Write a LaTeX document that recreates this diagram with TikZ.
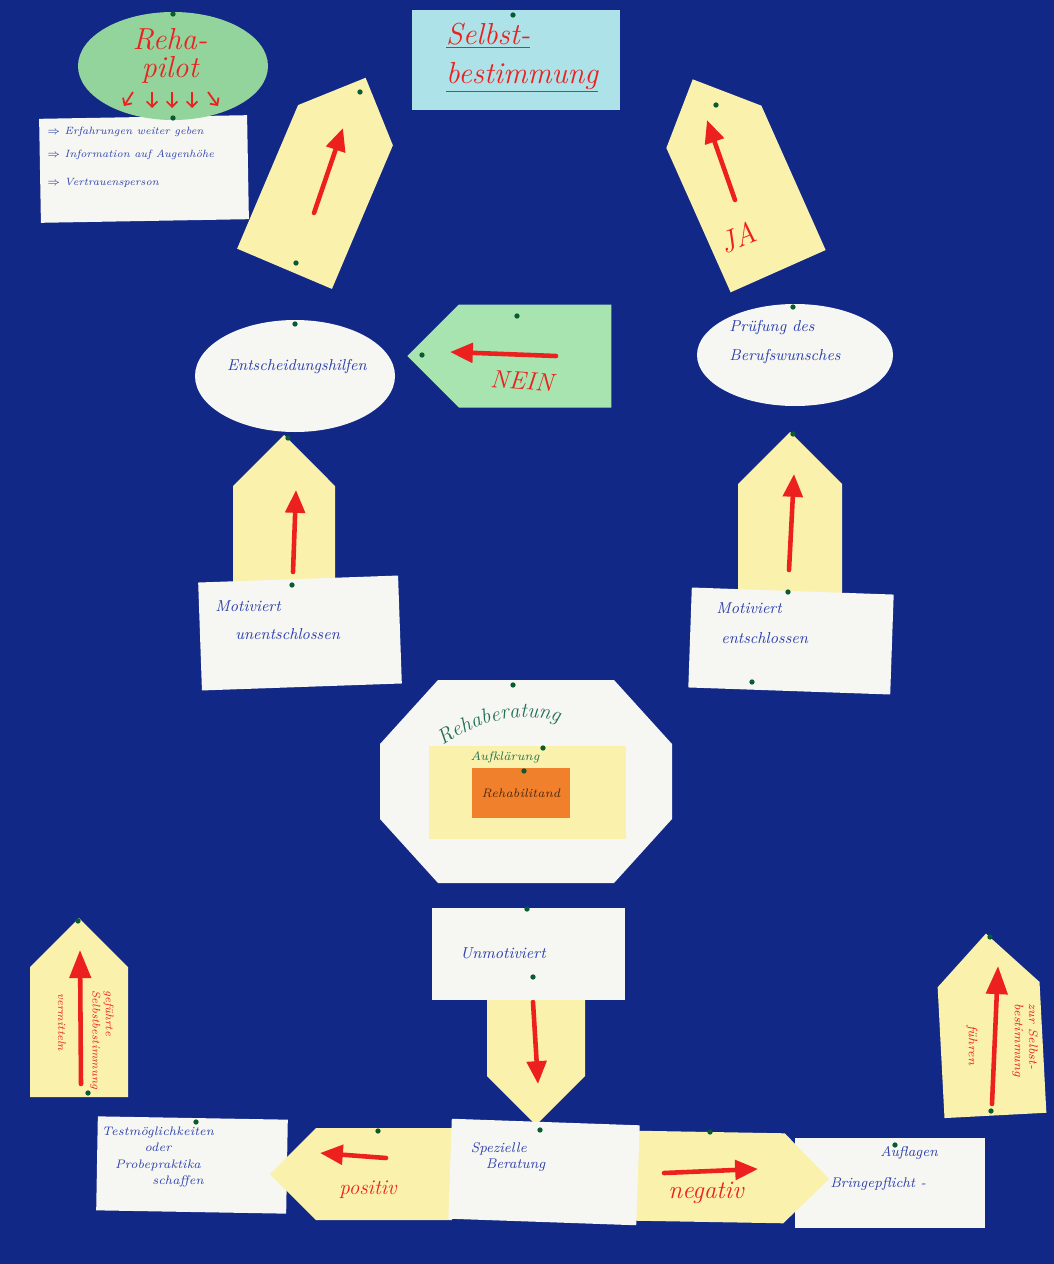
\documentclass[tikz,border=0pt]{standalone}
\usepackage{tikz}
\usetikzlibrary{shapes.geometric,shapes.symbols,arrows.meta,decorations.text}
\definecolor{board}{RGB}{18,40,134}
\definecolor{paper}{RGB}{246,246,242}
\definecolor{pale}{RGB}{250,241,172}
\definecolor{mint}{RGB}{146,212,156}
\definecolor{neingreen}{RGB}{168,228,176}
\definecolor{sky}{RGB}{172,226,232}
\definecolor{orng}{RGB}{240,128,44}
\definecolor{marker}{RGB}{236,32,30}
\definecolor{ink}{RGB}{44,64,172}
\definecolor{greenink}{RGB}{34,112,84}
\definecolor{pinc}{RGB}{10,90,50}
\def\px{0.02cm}
\def\card{\node[card]}
\def\arrowcard{\node[arrowcard]}
\tikzset{
  card/.style={rectangle,fill=paper,inner sep=0pt},
  arrowcard/.style={signal,fill=pale,signal from=nowhere,signal pointer angle=90,inner sep=0pt},
  hand/.style={text=ink,font=\small\itshape,align=left,inner sep=0pt},
  redhand/.style={text=marker,font=\Large\itshape,inner sep=0pt},
  sidetext/.style={text=marker,font=\fontsize{6.3}{7.5}\selectfont\itshape,inner sep=0pt,rotate=-90},
  markerline/.style={draw=marker,line width=2.6pt,line cap=round,-{Triangle[length=13pt,width=11pt]}},
  smallarrow/.style={draw=marker,line width=1pt,-{Straight Barb[length=3pt]}}
}
\begin{document}
\begin{tikzpicture}[x=\px,y=-\px]
\fill[board] (0,0) rectangle (1054,1264);
\useasboundingbox (0,0) rectangle (1054,1264);

% top: Reha-pilot and Selbstbestimmung
\card[minimum width=208*\px,minimum height=104*\px,rotate=1] (info) at (144,169) {};
\node[hand,font=\fontsize{6}{7}\selectfont\itshape,anchor=north west] (infotxt) at (47,127)
  {$\Rightarrow$ Erfahrungen weiter geben\\[6pt]$\Rightarrow$ Information auf Augenhöhe\\[9pt]$\Rightarrow$ Vertrauensperson};
\node[ellipse,fill=mint,minimum width=190*\px,minimum height=108*\px] (pilot) at (173,66) {};
\node[redhand,font=\LARGE\itshape,align=center] (pilottxt) at (170,56) {Reha-\\[-6pt]pilot};
\coordinate (p1) at (133,92); \coordinate (p1e) at (124,106);
\coordinate (p2) at (152,92); \coordinate (p2e) at (152,108);
\coordinate (p3) at (172,92); \coordinate (p3e) at (172,108);
\coordinate (p4) at (192,92); \coordinate (p4e) at (192,108);
\coordinate (p5) at (208,92); \coordinate (p5e) at (218,106);
\draw[smallarrow] (p1) -- (p1e);
\draw[smallarrow] (p2) -- (p2e);
\draw[smallarrow] (p3) -- (p3e);
\draw[smallarrow] (p4) -- (p4e);
\draw[smallarrow] (p5) -- (p5e);

\card[fill=sky,minimum width=208*\px,minimum height=100*\px] (selbst) at (516,60) {};
\node[redhand,font=\LARGE\itshape,align=left] (selbsttxt) at (522,58) {\underline{Selbst-}\\\underline{bestimmung}};

% tilted arrows up to Selbstbestimmung
\arrowcard[signal to=north,minimum width=103*\px,minimum height=156*\px,rotate=-23] (upl) at (315,197) {};
\coordinate (l1) at (314,213); \coordinate (l2) at (343,128);
\draw[markerline] (l1) -- (l2);
\arrowcard[signal to=north,minimum width=104*\px,minimum height=158*\px,rotate=24] (upr) at (746,199) {};
\coordinate (r1) at (735,200); \coordinate (r2) at (707,120);
\draw[markerline] (r1) -- (r2);
\node[redhand,font=\LARGE\itshape,rotate=22] (ja) at (738,238) {JA};

% middle row
\node[ellipse,fill=paper,minimum width=200*\px,minimum height=112*\px] (hilfen) at (295,376) {};
\node[hand] (hilfentxt) at (297,367) {Entscheidungshilfen};
\arrowcard[fill=neingreen,signal to=west,minimum width=204*\px,minimum height=103*\px] (nein) at (535,356) {};
\coordinate (n1) at (556,356); \coordinate (n2) at (450,352);
\draw[markerline] (n1) -- (n2);
\node[redhand,rotate=-4] (neintxt) at (522,381) {NEIN};
\node[ellipse,fill=paper,minimum width=196*\px,minimum height=102*\px] (pruef) at (795,355) {};
\node[hand] (prueftxt) at (785,342) {Prüfung des\\[5pt]Berufswunsches};

% arrows up from Motiviert
\arrowcard[signal to=north,minimum width=102*\px,minimum height=114*\px] (upa) at (284,543) {};
\coordinate (a1) at (293,572); \coordinate (a2) at (296,490);
\draw[markerline] (a1) -- (a2);
\arrowcard[signal to=north,minimum width=104*\px,minimum height=118*\px] (upb) at (790,543) {};
\coordinate (b1) at (789,570); \coordinate (b2) at (794,474);
\draw[markerline] (b1) -- (b2);
\card[minimum width=200*\px,minimum height=108*\px,rotate=2] (unent) at (300,633) {};
\node[hand,anchor=north west] (unenttxt) at (215,600) {Motiviert\\[5pt]\hspace{4mm}unentschlossen};
\card[minimum width=202*\px,minimum height=100*\px,rotate=-2] (entsch) at (791,641) {};
\node[hand,anchor=north west] (entschtxt) at (716,602) {Motiviert\\[6pt]\hspace{1mm}entschlossen};

% Rehaberatung
\fill[paper] (438,680) -- (614,680) -- (672,744) -- (672,819) -- (614,883) -- (438,883) -- (380,819) -- (380,744) -- cycle;
\coordinate (okt) at (526,781);
\path[decorate,decoration={text along path,text align=center,
  text={|\color{greenink}\large\itshape|Rehaberatung}}] (428,758) .. controls (470,720) and (530,704) .. (576,730);
\card[fill=pale,minimum width=197*\px,minimum height=93*\px] (aufkl) at (527,792) {};
\node[text=greenink,font=\scriptsize\itshape] (aufkltxt) at (505,757) {Aufklärung};
\card[fill=orng,minimum width=98*\px,minimum height=50*\px,text=black!70!orng,font=\scriptsize\itshape] (rehab) at (521,793) {Rehabilitand};

% Unmotiviert and Spezielle Beratung
\arrowcard[signal to=south,minimum width=98*\px,minimum height=116*\px] (dn) at (536,1018) {};
\coordinate (d1) at (533,1002); \coordinate (d2) at (538,1084);
\draw[markerline] (d1) -- (d2);
\card[minimum width=193*\px,minimum height=92*\px] (unmot) at (528,954) {};
\node[hand] (unmottxt) at (503,953) {Unmotiviert};

\card[minimum width=190*\px,minimum height=94*\px,rotate=-1] (test) at (192,1165) {};
\node[hand,font=\scriptsize\itshape,align=center] (testtxt) at (158,1157)
  {Testmöglichkeiten\\[1pt]oder\\[2pt]Probepraktika\\[1pt]\hspace{8mm}schaffen};
\arrowcard[signal to=west,minimum width=182*\px,minimum height=92*\px] (pos) at (384,1174) {};
\coordinate (q1) at (386,1158); \coordinate (q2) at (320,1153);
\draw[markerline] (q1) -- (q2);
\node[redhand,font=\large\itshape] (postxt) at (368,1190) {positiv};

\card[minimum width=190*\px,minimum height=90*\px] (aufl) at (890,1183) {};
\node[hand,font=\footnotesize\itshape,anchor=north west] (aufltxt) at (830,1146) {\hspace{10mm}Auflagen\\[8pt]Bringepflicht -};
\arrowcard[signal to=east,minimum width=193*\px,minimum height=90*\px,rotate=-1] (neg) at (710,1177) {};
\coordinate (g1) at (664,1173); \coordinate (g2) at (758,1169);
\draw[markerline] (g1) -- (g2);
\node[redhand] (negtxt) at (706,1193) {negativ};

\card[minimum width=188*\px,minimum height=100*\px,rotate=-2] (spez) at (544,1172) {};
\node[hand,font=\footnotesize\itshape] (speztxt) at (508,1157) {Spezielle\\\hspace{3mm}Beratung};

% side arrows
\arrowcard[signal to=north,minimum width=98*\px,minimum height=130*\px] (vl) at (79,1032) {};
\coordinate (v1) at (81,1084); \coordinate (v2) at (80,950);
\draw[markerline,-{Triangle[length=16pt,width=12pt]}] (v1) -- (v2);
\node[sidetext,align=left,anchor=north west] (vltxt) at (114,990) {geführte\\Selbstbestimmung};
\node[sidetext,anchor=west] (vltxt2) at (62,993) {vermitteln};

\arrowcard[signal to=north,minimum width=102*\px,minimum height=131*\px,rotate=3] (vr) at (992,1050) {};
\coordinate (w1) at (992,1104); \coordinate (w2) at (998,966);
\draw[markerline,-{Triangle[length=16pt,width=12pt]}] (w1) -- (w2);
\node[sidetext,font=\scriptsize\itshape,align=left,anchor=north west] (vrtxt) at (1038,1003) {zur Selbst-\\bestimmung};
\node[sidetext,font=\scriptsize\itshape,anchor=west] (vrtxt2) at (972,1025) {führen};

% pins
\fill[pinc] (173,14) circle (1.5pt) (513,15) circle (1.5pt) (173,118) circle (1.5pt) (296,263) circle (1.5pt)
  (360,92) circle (1.5pt) (716,105) circle (1.5pt) (295,324) circle (1.5pt) (517,316) circle (1.5pt)
  (422,355) circle (1.5pt) (793,307) circle (1.5pt) (288,438) circle (1.5pt) (292,585) circle (1.5pt)
  (793,434) circle (1.5pt) (788,592) circle (1.5pt) (752,682) circle (1.5pt) (513,685) circle (1.5pt)
  (543,748) circle (1.5pt) (524,771) circle (1.5pt) (533,977) circle (1.5pt) (527,909) circle (1.5pt)
  (378,1131) circle (1.5pt) (710,1132) circle (1.5pt) (540,1130) circle (1.5pt) (196,1122) circle (1.5pt)
  (895,1145) circle (1.5pt) (78,921) circle (1.5pt) (88,1093) circle (1.5pt) (990,937) circle (1.5pt)
  (991,1111) circle (1.5pt);
\end{tikzpicture}
\end{document}
